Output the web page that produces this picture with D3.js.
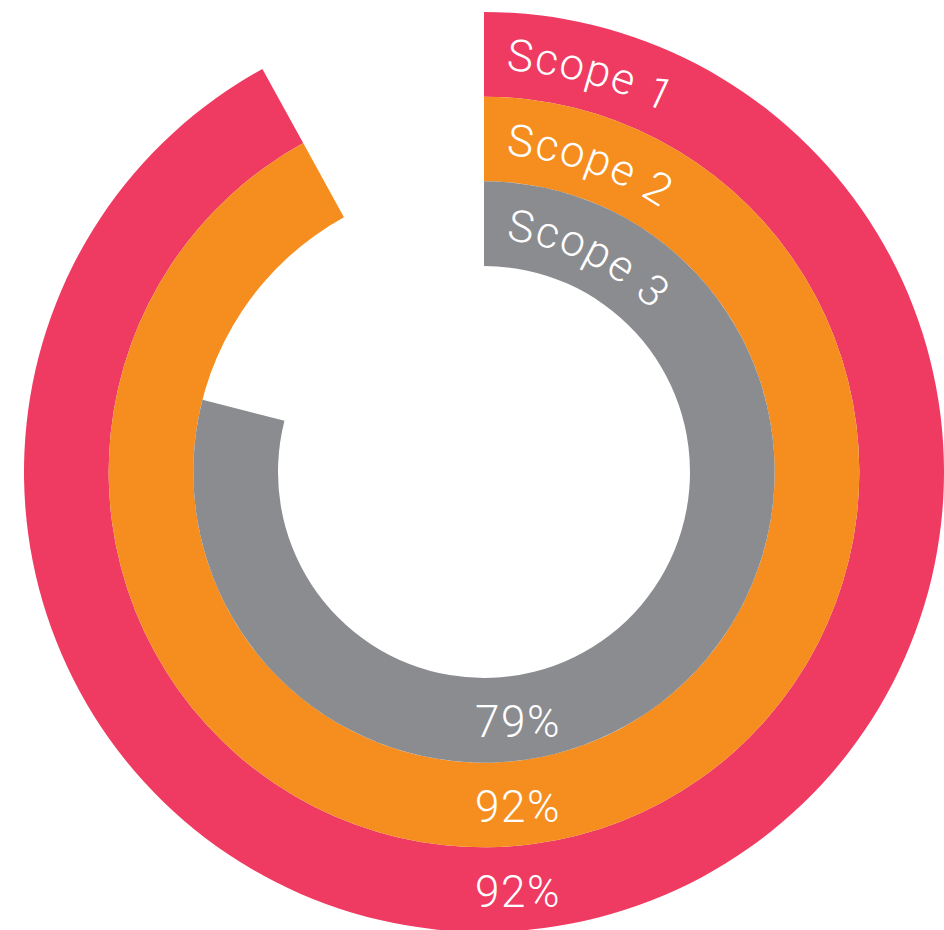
<!DOCTYPE html>
<html>
<head>
<meta charset="utf-8">
<script src="https://cdn.jsdelivr.net/npm/d3@7"></script>
<style>
  html, body { margin: 0; padding: 0; background: #fff; overflow: hidden; }
  .ring-label, .value-label { fill: #fff; font-family: Roboto, "Liberation Sans", sans-serif; font-weight: 300; letter-spacing: 1.5px; }
</style>
</head>
<body>
<div id="chart"></div>
<script>
const scopes = ["Scope 1", "Scope 2", "Scope 3"];
const percents = [92, 92, 79];
const colors = ["#ef3a62", "#f68e1f", "#8b8c90"];

const width = 944;
const height = 930;
const cx = 484, cy = 472;
const innerRadius = 206;
const outerRadius = 460;

const svg = d3.select("#chart")
    .append("svg")
    .attr("width", width)
    .attr("height", height);

const g = svg.append("g")
    .attr("transform", `translate(${cx}, ${cy})`);

// outermost ring is Scope 1
const r = d3.scaleBand()
    .domain(scopes.slice().reverse())
    .range([innerRadius, outerRadius])
    .paddingInner(0);

const angle = d3.scaleLinear()
    .domain([0, 100])
    .range([0, 2 * Math.PI]);

const data = scopes.map((s, i) => ({ name: s, value: percents[i], color: colors[i] }));

const arc = d3.arc()
    .innerRadius(d => r(d.name))
    .outerRadius(d => r(d.name) + r.bandwidth())
    .startAngle(0)
    .endAngle(d => angle(d.value));

g.selectAll(".ring")
    .data(data)
    .enter().append("path")
    .attr("class", "ring")
    .attr("d", arc)
    .attr("fill", d => d.color);

// curved scope labels along each ring
const fontSize = 44;
const defs = svg.append("defs");
data.forEach((d, i) => {
    const mid = r(d.name) + r.bandwidth() / 2;
    const base = mid - fontSize * 0.35;
    const p = d3.path();
    p.arc(cx, cy, base, -Math.PI / 2, Math.PI / 2);
    defs.append("path")
        .attr("id", "lp" + i)
        .attr("d", p.toString());
});

svg.selectAll(".ring-label")
    .data(data)
    .enter().append("text")
    .attr("class", "ring-label")
    .style("font-size", fontSize + "px")
    .append("textPath")
    .attr("href", (d, i) => "#lp" + i)
    .attr("startOffset", 22)
    .text(d => d.name);

// percentage labels at the bottom of each ring
g.selectAll(".value-label")
    .data(data)
    .enter().append("text")
    .attr("class", "value-label")
    .attr("x", 34)
    .attr("y", d => r(d.name) + r.bandwidth() / 2 + 17)
    .attr("text-anchor", "middle")
    .style("font-size", fontSize + "px")
    .text(d => d.value + "%");
</script>
</body>
</html>
